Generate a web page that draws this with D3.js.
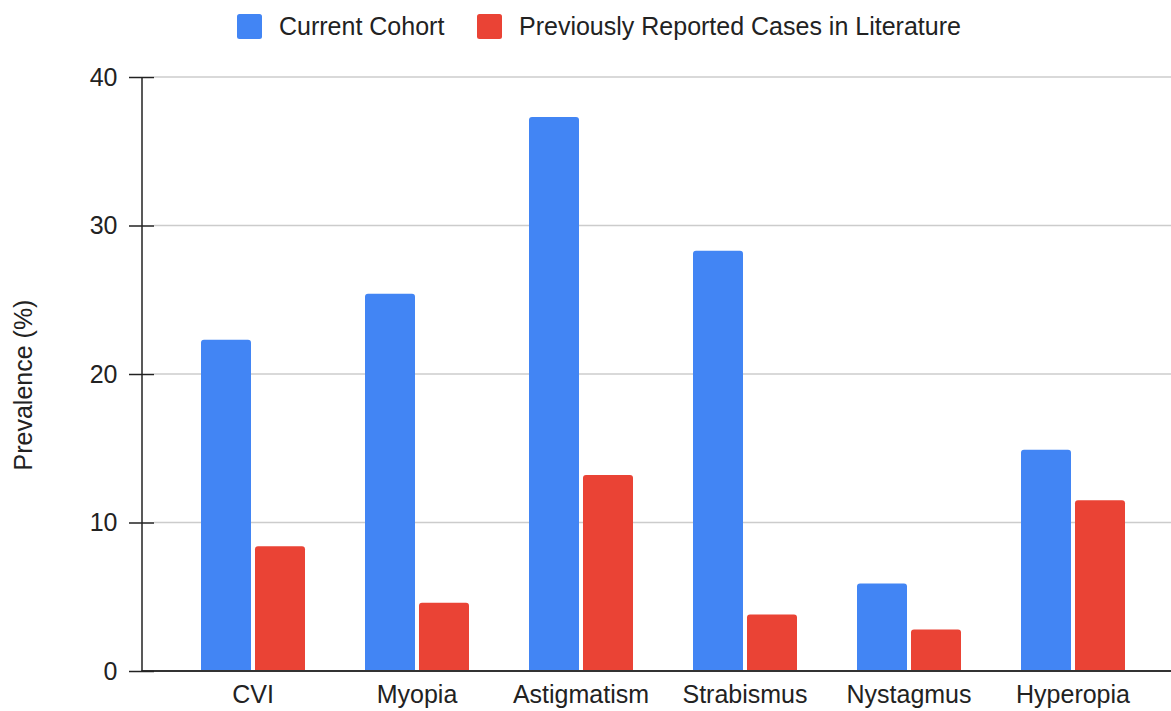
<!DOCTYPE html>
<html>
<head>
<meta charset="utf-8">
<script src="https://cdn.jsdelivr.net/npm/d3@7"></script>
<style>
  html, body { margin: 0; padding: 0; background: #fff; }
  svg { display: block; font-family: "Liberation Sans", Arial, sans-serif; }
</style>
</head>
<body>
<svg id="chart" width="1171" height="711"></svg>
<script>
const categories = ["CVI", "Myopia", "Astigmatism", "Strabismus", "Nystagmus", "Hyperopia"];
const seriesNames = ["Current Cohort", "Previously Reported Cases in Literature"];
const currentCohort = [22.3, 25.4, 37.3, 28.3, 5.9, 14.9];
const literature = [8.4, 4.6, 13.2, 3.8, 2.8, 11.5];
const yTicks = [0, 10, 20, 30, 40];
const colors = ["#4285F4", "#EA4335"];

const svg = d3.select("#chart");
const axisX = 141.5, plotRight = 1171;
const fs = 25;

const y = d3.scaleLinear().domain([0, 40]).range([671, 77]);
const x0 = d3.scaleBand().domain(categories).range([171, 1155]).padding(0);
const x1 = d3.scaleBand().domain(seriesNames).range([-52, 52]).paddingInner(0.074).paddingOuter(0);

// gridlines
svg.append("g").selectAll("line").data(yTicks.filter(d => d !== 0)).join("line")
  .attr("x1", 154).attr("x2", plotRight)
  .attr("y1", d => y(d)).attr("y2", d => y(d))
  .attr("stroke", "#cccccc").attr("stroke-width", 1.5);

// bars
const data = categories.map((c, i) => ({ cat: c, vals: [currentCohort[i], literature[i]] }));
function topRounded(x, yTop, w, h, r) {
  r = Math.min(r, h);
  return `M${x},${yTop + h}V${yTop + r}Q${x},${yTop} ${x + r},${yTop}H${x + w - r}Q${x + w},${yTop} ${x + w},${yTop + r}V${yTop + h}Z`;
}
const groups = svg.append("g").selectAll("g").data(data).join("g")
  .attr("transform", d => `translate(${x0(d.cat) + x0.bandwidth() / 2},0)`);
groups.selectAll("path").data(d => d.vals.map((v, j) => ({ v, s: seriesNames[j], j }))).join("path")
  .attr("d", d => topRounded(x1(d.s), y(d.v), x1.bandwidth(), y(0) - y(d.v), 3))
  .attr("fill", d => colors[d.j]);

// baseline
svg.append("line").attr("x1", axisX).attr("x2", plotRight)
  .attr("y1", y(0)).attr("y2", y(0)).attr("stroke", "#333").attr("stroke-width", 2);

// y axis
const yAxis = d3.axisLeft(y).tickValues(yTicks).tickSize(12).tickPadding(12).tickSizeOuter(0);
const gy = svg.append("g").attr("transform", `translate(${axisX},0)`).call(yAxis);
gy.select(".domain").attr("stroke", "#222").attr("stroke-width", 1.5);
gy.selectAll(".tick line").attr("stroke", "#222").attr("stroke-width", 1.5).attr("x2", 12.5).attr("x1", -12.5);
gy.selectAll(".tick text").attr("font-size", fs).attr("fill", "#222").attr("font-family", "Liberation Sans, Arial, sans-serif");

// x axis labels
const xAxis = d3.axisBottom(x0).tickSize(0).tickPadding(14);
const gx = svg.append("g").attr("transform", `translate(0,${y(0)})`).call(xAxis);
gx.select(".domain").remove();
gx.selectAll(".tick text").attr("font-size", fs).attr("fill", "#222").attr("font-family", "Liberation Sans, Arial, sans-serif");

// y title
svg.append("text")
  .attr("transform", `translate(32,385) rotate(-90)`)
  .attr("text-anchor", "middle")
  .attr("font-size", fs).attr("fill", "#222")
  .text("Prevalence (%)");

// legend
const legendItems = [{ name: seriesNames[0], x: 237 }, { name: seriesNames[1], x: 477 }];
const lg = svg.append("g").selectAll("g").data(legendItems).join("g")
  .attr("transform", d => `translate(${d.x},14)`);
lg.append("rect").attr("width", 25).attr("height", 25).attr("rx", 2.5)
  .attr("fill", (d, i) => colors[i]);
lg.append("text").attr("x", 42).attr("y", 21).attr("font-size", fs).attr("fill", "#222")
  .text(d => d.name);
</script>
</body>
</html>
